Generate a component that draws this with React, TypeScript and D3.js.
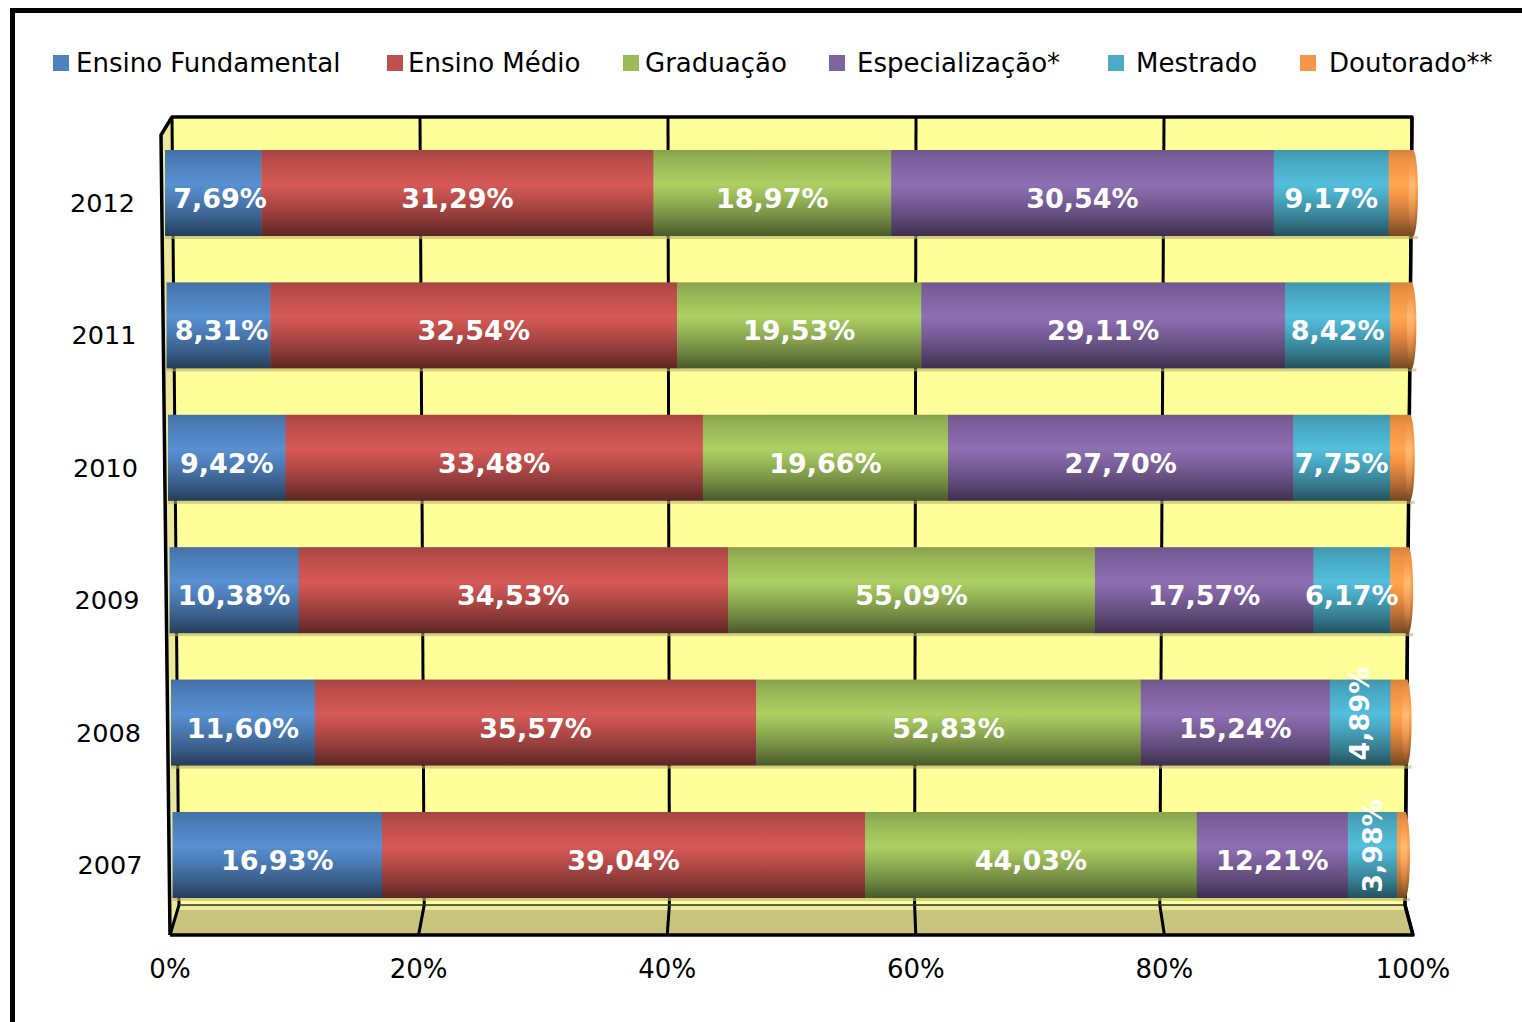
import React from 'react';
import * as d3 from 'd3';

const years = ['2012', '2011', '2010', '2009', '2008', '2007'];
const seriesNames = ['Ensino Fundamental', 'Ensino Médio', 'Graduação', 'Especialização*', 'Mestrado', 'Doutorado**'];
const seriesColors = ['#4F81BD', '#C0504D', '#9BBB59', '#8064A2', '#4BACC6', '#F79646'];

const fundamental = [7.69, 8.31, 9.42, 10.38, 11.6, 16.93];
const medio = [31.29, 32.54, 33.48, 34.53, 35.57, 39.04];
const graduacao = [18.97, 19.53, 19.66, 29.5, 31.0, 26.8];
const especializacao = [30.54, 29.11, 27.7, 17.57, 15.24, 12.21];
const mestrado = [9.17, 8.42, 7.75, 6.17, 4.89, 3.98];
const doutorado = [2.34, 2.09, 1.99, 1.85, 1.7, 1.04];

// labels as printed on the chart (Graduação labels differ from bar widths in the source)
const graduacaoLabels = ['18,97%', '19,53%', '19,66%', '55,09%', '52,83%', '44,03%'];
const xTicks = [0, 20, 40, 60, 80, 100];

const seriesValues = [fundamental, medio, graduacao, especializacao, mestrado, doutorado];

const fmt = (v: number) => d3.format('.2f')(v).replace('.', ',') + '%';

const seriesLabels: (string[] | null)[] = [
  fundamental.map(fmt),
  medio.map(fmt),
  graduacaoLabels,
  especializacao.map(fmt),
  mestrado.map(fmt),
  null,
];

// layout
const W = 1522;
const H = 1022;
const FONT = '"DejaVu Sans", Verdana, sans-serif';
const backTop = 117;
const backBottom = 905;
const floorFront = 935;
const xBackTop = d3.scaleLinear().domain([0, 100]).range([172, 1412]);
const xBackBottom = d3.scaleLinear().domain([0, 100]).range([179, 1405]);
const xFloorFront = d3.scaleLinear().domain([0, 100]).range([170, 1413]);
const yCenter = d3.scalePoint<string>().domain(years).range([193, 855]);
const barH = yCenter.step() * 0.65;
const barLeftAt = d3.scaleLinear().domain([193, 855]).range([165, 172.5]);
const barRightAt = d3.scaleLinear().domain([193, 855]).range([1418, 1410]);
const legendSquareX = [53, 387, 623, 829, 1108, 1300];
const legendTextX = [76, 408, 645, 857, 1136, 1329];

function shade(c: string, k: number) {
  const col = d3.color(c)!;
  return (k >= 0 ? col.brighter(k) : col.darker(-k)).formatHex();
}

export default function App() {
  const stacks = years.map((yr, i) => {
    let acc = 0;
    return seriesValues.map((vals, s) => {
      const v0 = acc;
      acc += vals[i];
      return { s, v0, v1: acc };
    });
  });

  return (
    <svg
      width={W}
      height={H}
      viewBox={`0 0 ${W} ${H}`}
      style={{ position: 'absolute', left: 0, top: 0, background: '#fff' }}
      fontFamily={FONT}
    >
      <defs>
        {seriesColors.map((c, s) => (
          <linearGradient key={s} id={`grad${s}`} x1="0" y1="0" x2="0" y2="1">
            <stop offset="0" stopColor={shade(c, -0.4)} />
            <stop offset="0.12" stopColor={shade(c, -0.1)} />
            <stop offset="0.4" stopColor={shade(c, 0.3)} />
            <stop offset="0.55" stopColor={shade(c, -0.05)} />
            <stop offset="0.8" stopColor={shade(c, -0.9)} />
            <stop offset="1" stopColor={shade(c, -2.1)} />
          </linearGradient>
        ))}
        <linearGradient id="capGrad" x1="0" y1="0" x2="0" y2="1">
          <stop offset="0" stopColor="#F79646" stopOpacity="0" />
          <stop offset="0.4" stopColor="#FFC080" stopOpacity="0.8" />
          <stop offset="1" stopColor="#F79646" stopOpacity="0" />
        </linearGradient>
      </defs>

      {/* outer frame */}
      <rect x={12.5} y={10.5} width={W + 100} height={H + 100} fill="#fff" stroke="#000" strokeWidth={5} />

      {/* legend */}
      {seriesNames.map((name, s) => (
        <g key={name}>
          <rect x={legendSquareX[s]} y={55} width={16} height={16} fill={seriesColors[s]} />
          <text x={legendTextX[s]} y={72} fontSize={26} fill="#000">
            {name}
          </text>
        </g>
      ))}

      {/* back wall */}
      <polygon
        points={`${xBackTop(0)},${backTop} ${xBackTop(100)},${backTop} ${xBackBottom(100)},${backBottom} ${xBackBottom(0)},${backBottom}`}
        fill="#FFFF99"
      />
      {/* left side wall */}
      <polygon
        points={`${xBackTop(0)},${backTop} ${xBackBottom(0)},${backBottom} ${xFloorFront(0)},${floorFront} 161,135`}
        fill="#ECE99C"
      />
      {/* floor */}
      <polygon
        points={`${xBackBottom(0)},${backBottom} ${xBackBottom(100)},${backBottom} ${xFloorFront(100)},${floorFront} ${xFloorFront(0)},${floorFront}`}
        fill="#C9C47E"
      />
      <line x1={xBackBottom(0)} y1={backBottom + 3} x2={xBackBottom(100)} y2={backBottom + 3} stroke="#EDEA9E" strokeWidth={4} />

      {/* gridlines on back wall and floor */}
      {xTicks.map((t) => (
        <g key={t}>
          <line x1={xBackTop(t)} y1={backTop} x2={xBackBottom(t)} y2={backBottom} stroke="#000" strokeWidth={3} />
          <line x1={xBackBottom(t)} y1={backBottom} x2={xFloorFront(t)} y2={floorFront} stroke="#000" strokeWidth={3} />
        </g>
      ))}

      {/* edges */}
      <line x1={xBackBottom(0)} y1={backBottom} x2={xBackBottom(100)} y2={backBottom} stroke="#333" strokeWidth={1.5} />
      <polyline
        points={`${xFloorFront(0)},${floorFront} 161,135 ${xBackTop(0)},${backTop} ${xBackTop(100)},${backTop} ${xBackBottom(100)},${backBottom} ${xFloorFront(100)},${floorFront} ${xFloorFront(0)},${floorFront}`}
        fill="none"
        stroke="#000"
        strokeWidth={3.5}
        strokeLinejoin="round"
      />

      {/* bars */}
      {years.map((yr, i) => {
        const yc = yCenter(yr)!;
        const x = d3.scaleLinear().domain([0, 100]).range([barLeftAt(yc), barRightAt(yc)]);
        const top = yc - barH / 2;
        const end = x(100);
        return (
          <g key={yr}>
            <rect x={x(0)} y={top + barH} width={end - x(0)} height={3} fill="#B9B26A" opacity={0.6} />
            {stacks[i].map((seg) => (
              <rect
                key={seg.s}
                x={x(seg.v0)}
                y={top}
                width={Math.max(0, x(seg.v1) - x(seg.v0) + (seg.s < 5 ? 0.5 : -4))}
                height={barH}
                fill={`url(#grad${seg.s})`}
              />
            ))}
            <ellipse cx={end - 5} cy={yc} rx={5} ry={barH / 2} fill="url(#grad5)" />
            <ellipse cx={end - 6} cy={yc} rx={3.5} ry={barH / 2 - 3} fill="url(#capGrad)" />
            {stacks[i].map((seg) => {
              const labels = seriesLabels[seg.s];
              if (!labels) return null;
              const cx = (x(seg.v0) + x(seg.v1)) / 2;
              const wSeg = x(seg.v1) - x(seg.v0);
              if (wSeg < 70) {
                return (
                  <text
                    key={seg.s}
                    transform={`translate(${cx + 9},${yc - 9}) rotate(-90)`}
                    textAnchor="middle"
                    fontSize={27}
                    fontWeight="bold"
                    fill="#fff"
                  >
                    {labels[i]}
                  </text>
                );
              }
              const lx = seg.s === 0 ? Math.max(cx, x(seg.v0) + 55) : cx;
              return (
                <text key={seg.s} x={lx} y={yc + 15} textAnchor="middle" fontSize={27} fontWeight="bold" fill="#fff">
                  {labels[i]}
                </text>
              );
            })}
          </g>
        );
      })}

      {/* year labels */}
      {years.map((yr) => {
        const yc = yCenter(yr)!;
        return (
          <text key={yr} x={barLeftAt(yc) - 30} y={yc + 19} textAnchor="end" fontSize={25.5} fill="#000">
            {yr}
          </text>
        );
      })}

      {/* x tick labels */}
      {xTicks.map((t) => (
        <text key={t} x={xFloorFront(t)} y={978} textAnchor="middle" fontSize={26} fill="#000">
          {t}%
        </text>
      ))}
    </svg>
  );
}
